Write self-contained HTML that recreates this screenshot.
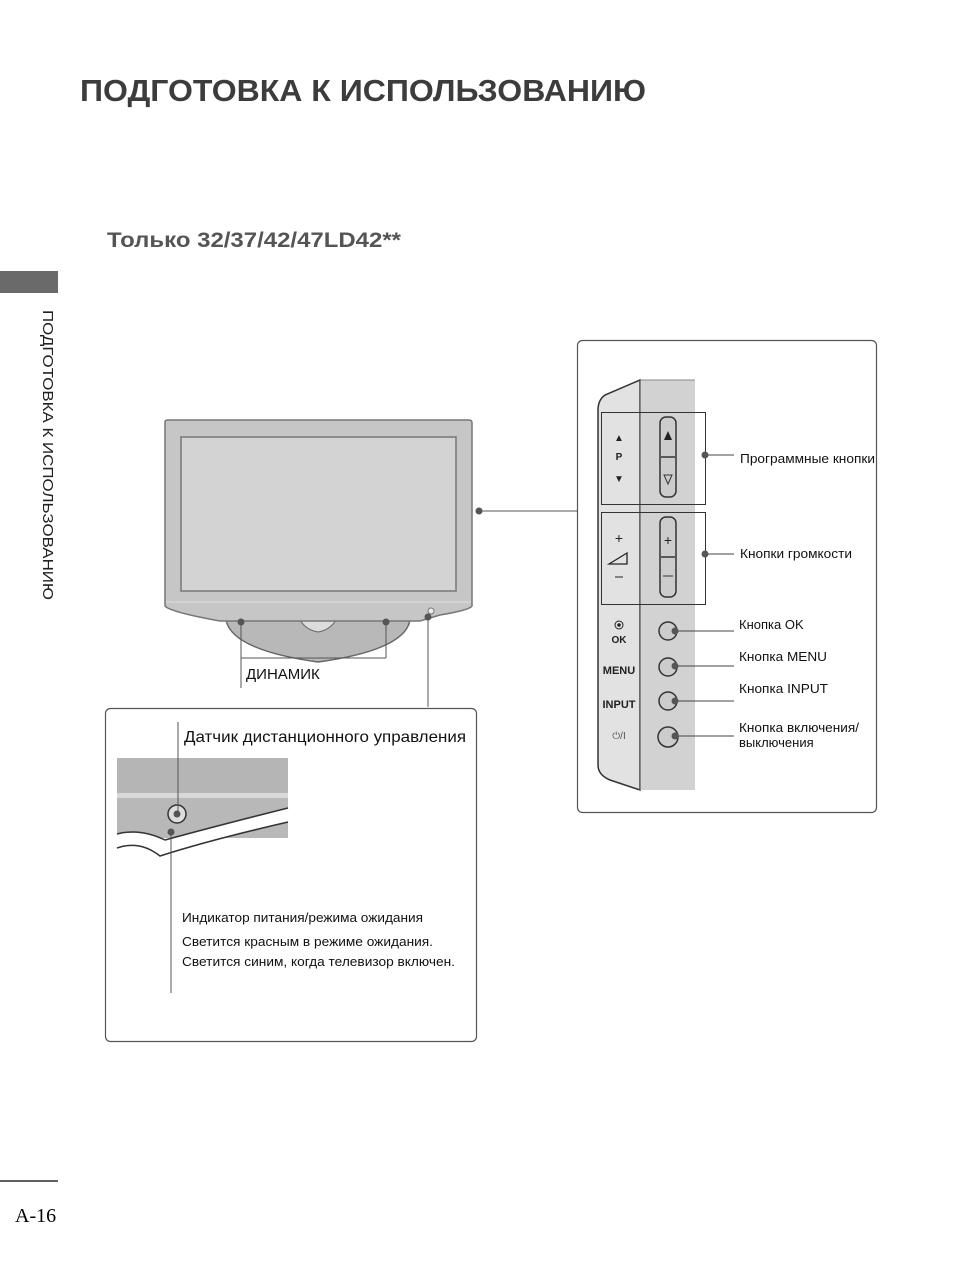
<!DOCTYPE html>
<html><head><meta charset="utf-8"><style>
body{margin:0;background:#fff}
svg{display:block}
text{font-family:"Liberation Sans",sans-serif}
</style></head><body>
<svg width="954" height="1272" viewBox="0 0 954 1272" xmlns="http://www.w3.org/2000/svg">
<text x="80" y="101" font-size="31" font-weight="bold" fill="#3c3c3c" textLength="566" lengthAdjust="spacingAndGlyphs">ПОДГОТОВКА К ИСПОЛЬЗОВАНИЮ</text>
<text x="107" y="247" font-size="21" font-weight="bold" fill="#555" textLength="294" lengthAdjust="spacingAndGlyphs">Только 32/37/42/47LD42**</text>
<rect x="0" y="271" width="58" height="22" fill="#6a6a6a"/>
<text transform="translate(43,310) rotate(90)" font-size="15" fill="#222" textLength="290" lengthAdjust="spacingAndGlyphs">ПОДГОТОВКА К ИСПОЛЬЗОВАНИЮ</text>
<line x1="0" y1="1181" x2="58" y2="1181" stroke="#000" stroke-width="1.2"/>
<text x="15" y="1222" font-size="20" style="font-family:'Liberation Serif',serif" fill="#000">A-16</text>

<!-- TV -->
<path d="M226 620 Q232 650 318 662 Q405 650 410 620 Z" fill="#b8b8b8" stroke="#666" stroke-width="1.5"/>
<path d="M300 620 Q306 630 318 632 Q330 630 336 620" fill="#ddd" stroke="#666"/>
<path d="M165 422 Q165 420 168 420 L469 420 Q472 420 472 423 L472 606 Q470 610 440 615 L420 621 L220 621 Q170 612 165 606 Z" fill="#c6c6c6" stroke="#777" stroke-width="1.5"/>
<line x1="166" y1="602" x2="471" y2="602" stroke="#ddd" stroke-width="1"/>
<rect x="181" y="437" width="275" height="154" fill="#d3d3d3" stroke="#777" stroke-width="1.5"/>
<circle cx="431" cy="611" r="3" fill="#eee" stroke="#777"/>
<g stroke="#555" stroke-width="1" fill="none">
<line x1="241" y1="622" x2="241" y2="688"/><line x1="386" y1="622" x2="386" y2="658"/><line x1="241" y1="658" x2="386" y2="658"/>
<line x1="428" y1="617" x2="428" y2="707"/>
<line x1="479" y1="511" x2="577" y2="511"/>
</g>
<g fill="#555"><circle cx="241" cy="622" r="3.5"/><circle cx="386" cy="622" r="3.5"/><circle cx="428" cy="617" r="3.5"/><circle cx="479" cy="511" r="3.5"/></g>
<text x="246" y="679" font-size="15" fill="#111">ДИНАМИК</text>

<!-- bottom box -->
<rect x="105.5" y="708.5" width="371" height="333" rx="5" fill="none" stroke="#555" stroke-width="1.2"/>
<rect x="117" y="758" width="171" height="35" fill="#b5b5b5"/>
<rect x="117" y="793" width="171" height="5" fill="#d8d8d8"/>
<rect x="117" y="798" width="171" height="40" fill="#b8b8b8"/>
<path d="M117 834 Q140 828 165 840 Q220 825 288 808 L288 822 Q210 840 160 856 Q140 842 117 848 Z" fill="#fff"/>
<rect x="117" y="850" width="171" height="10" fill="#fff"/>
<path d="M117 834 Q140 828 165 840 Q220 825 288 808" fill="none" stroke="#333" stroke-width="1.5"/>
<path d="M117 848 Q140 840 160 856 Q210 840 288 822" fill="none" stroke="#333" stroke-width="1.5"/>
<circle cx="177" cy="814" r="9" fill="#ddd" stroke="#333" stroke-width="1.5"/>
<line x1="178" y1="722" x2="178" y2="814" stroke="#555"/>
<circle cx="177" cy="814" r="3.5" fill="#555"/>
<circle cx="171" cy="832" r="3.5" fill="#555"/>
<line x1="171" y1="832" x2="171" y2="993" stroke="#555"/>
<text x="184" y="742" font-size="16" fill="#111" textLength="282" lengthAdjust="spacingAndGlyphs">Датчик дистанционного управления</text>
<text x="182" y="922" font-size="13" fill="#111" textLength="241" lengthAdjust="spacingAndGlyphs">Индикатор питания/режима ожидания</text>
<text x="182" y="946" font-size="13" fill="#111" textLength="251" lengthAdjust="spacingAndGlyphs">Светится красным в режиме ожидания.</text>
<text x="182" y="966" font-size="13" fill="#111" textLength="273" lengthAdjust="spacingAndGlyphs">Светится синим, когда телевизор включен.</text>

<!-- right box -->
<rect x="577.5" y="340.5" width="299" height="472" rx="5" fill="none" stroke="#555" stroke-width="1.2"/>
<path d="M640 380 L605 395 Q598 400 598 410 L598 765 Q598 775 610 780 L640 790 Z" fill="#e2e2e2" stroke="#333" stroke-width="1.5"/>
<rect x="640" y="380" width="55" height="410" fill="#d2d2d2"/>
<line x1="640" y1="380" x2="695" y2="380" stroke="#888"/>
<line x1="640" y1="380" x2="640" y2="790" stroke="#555" stroke-width="1.2"/>
<rect x="601.5" y="412.5" width="104" height="92" fill="none" stroke="#333"/>
<rect x="601.5" y="512.5" width="104" height="92" fill="none" stroke="#333"/>
<rect x="660" y="417" width="16" height="80" rx="6" fill="#ccc" stroke="#333" stroke-width="1.5"/>
<line x1="661" y1="457" x2="675" y2="457" stroke="#333" stroke-width="1.5"/>
<path d="M668 431 L672 440 L664 440 Z" fill="#222"/>
<path d="M664 475 L672 475 L668 484 Z" fill="none" stroke="#333"/>
<rect x="660" y="517" width="16" height="80" rx="6" fill="#ccc" stroke="#333" stroke-width="1.5"/>
<line x1="661" y1="557" x2="675" y2="557" stroke="#333" stroke-width="1.5"/>
<text x="668" y="545" font-size="14" fill="#222" text-anchor="middle">+</text>
<line x1="663" y1="576" x2="673" y2="576" stroke="#333"/>
<g fill="#ccc" stroke="#333" stroke-width="1.5">
<circle cx="668" cy="631" r="9"/><circle cx="668" cy="667" r="9"/><circle cx="668" cy="701" r="9"/><circle cx="668" cy="737" r="10"/>
</g>
<g fill="#222" text-anchor="middle" font-weight="bold">
<text x="619" y="441" font-size="10">▲</text>
<text x="619" y="460" font-size="10">P</text>
<text x="619" y="482" font-size="10">▼</text>
<text x="619" y="643" font-size="10">OK</text>
<text x="619" y="674" font-size="11">MENU</text>
<text x="619" y="708" font-size="11">INPUT</text>
<text x="619" y="739" font-size="10" font-weight="normal" fill="#555">⏻/I</text>
</g>
<text x="619" y="543" font-size="14" fill="#222" text-anchor="middle">+</text>
<path d="M609 564 L627 553 L627 564 Z" fill="none" stroke="#222" stroke-width="1.3"/>
<line x1="615" y1="577" x2="623" y2="577" stroke="#222"/>
<circle cx="619" cy="625" r="4" fill="none" stroke="#222"/><circle cx="619" cy="625" r="1.8" fill="#222"/>
<g stroke="#444" fill="none">
<line x1="705" y1="455" x2="734" y2="455"/><line x1="705" y1="554" x2="734" y2="554"/>
<line x1="675" y1="631" x2="734" y2="631"/><line x1="675" y1="666" x2="734" y2="666"/>
<line x1="675" y1="701" x2="734" y2="701"/><line x1="675" y1="736" x2="734" y2="736"/>
</g>
<g fill="#555"><circle cx="705" cy="455" r="3.5"/><circle cx="705" cy="554" r="3.5"/><circle cx="675" cy="631" r="3.5"/><circle cx="675" cy="666" r="3.5"/><circle cx="675" cy="701" r="3.5"/><circle cx="675" cy="736" r="3.5"/></g>
<g font-size="13" fill="#111">
<text x="740" y="463" textLength="135" lengthAdjust="spacingAndGlyphs">Программные кнопки</text>
<text x="740" y="558" textLength="112" lengthAdjust="spacingAndGlyphs">Кнопки громкости</text>
<text x="739" y="629">Кнопка OK</text>
<text x="739" y="661" textLength="88" lengthAdjust="spacingAndGlyphs">Кнопка MENU</text>
<text x="739" y="693" textLength="89" lengthAdjust="spacingAndGlyphs">Кнопка INPUT</text>
<text x="739" y="732" textLength="120" lengthAdjust="spacingAndGlyphs">Кнопка включения/</text>
<text x="739" y="747">выключения</text>
</g>
</svg>
</body></html>
